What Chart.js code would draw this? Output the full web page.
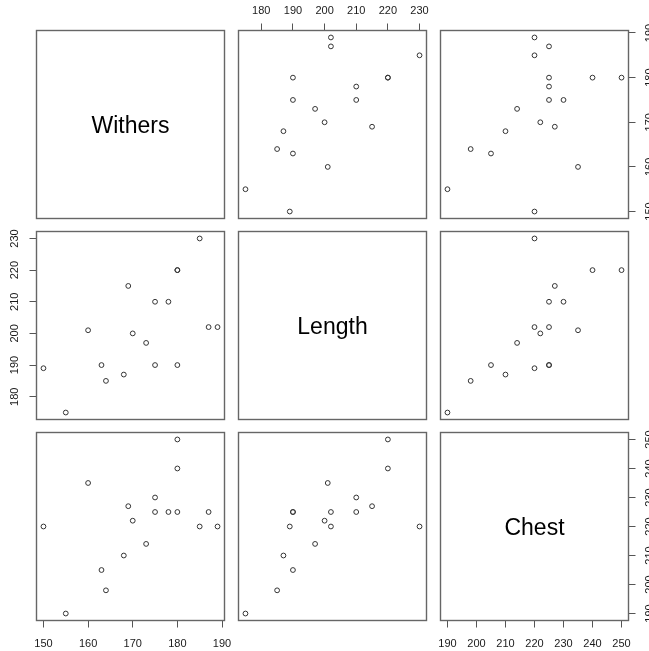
<!DOCTYPE html>
<html>
<head>
<meta charset="utf-8">
<script src="https://cdn.jsdelivr.net/npm/chart.js@4.4.1/dist/chart.umd.min.js"></script>
<style>
  html, body { margin: 0; padding: 0; background: #fff; overflow: hidden; }
  #wrap { position: relative; width: 649px; height: 651px; overflow: hidden; }
  #wrap canvas { position: absolute; left: 0; top: 0; }
</style>
</head>
<body>
<div id="wrap"></div>
<script>
// Horse body measurements (cm), one entry per animal
const variables = ['Withers', 'Length', 'Chest'];
const withers = [150, 155, 160, 163, 164, 168, 169, 170, 173, 175, 175, 178, 180, 180, 180, 185, 187, 189];
const length  = [189, 175, 201, 190, 185, 187, 215, 200, 197, 210, 190, 210, 220, 220, 190, 230, 202, 202];
const chest   = [220, 190, 235, 205, 198, 210, 227, 222, 214, 230, 225, 225, 250, 240, 225, 220, 225, 220];

const withersTicks = [150, 160, 170, 180, 190];
const lengthTicks  = [180, 190, 200, 210, 220, 230];
const chestTicks   = [190, 200, 210, 220, 230, 240, 250];

const columns = [withers, length, chest];
const tickSets = [withersTicks, lengthTicks, chestTicks];

// page layout; canvases are a bit larger than the page so the
// right-hand labels run off the edge
const W = 649, H = 651;
const CW = W + 40, CH = H + 40;
const colLeft = [36.5, 238.5, 440.5];
const rowTop = [30.5, 231.5, 432.5];
const cell = 188;
const axisSize = 30;
const FONT = '"Liberation Sans", Arial, sans-serif';

// data extent padded by 4% on each side, like base graphics
function extent(values) {
  const lo = Math.min(...values), hi = Math.max(...values);
  const pad = (hi - lo) * 0.04;
  return [lo - pad, hi + pad];
}

// box around every panel, plus the variable name on the diagonal
const frame = {
  id: 'frame',
  afterDraw(chart, args, opts) {
    const { ctx, chartArea: a } = chart;
    ctx.save();
    ctx.strokeStyle = '#666';
    ctx.lineWidth = 1.4;
    ctx.strokeRect(a.left, a.top, a.right - a.left, a.bottom - a.top);
    if (opts.label) {
      ctx.fillStyle = '#000';
      ctx.font = '23px ' + FONT;
      ctx.textAlign = 'center';
      ctx.textBaseline = 'middle';
      ctx.fillText(opts.label, (a.left + a.right) / 2, (a.top + a.bottom) / 2 + 2);
    }
    ctx.restore();
  }
};

const labelPadding = { left: 5, right: 5, top: 6, bottom: 10 };

function axis(ticks, range, position, show) {
  const vertical = position === 'left' || position === 'right';
  return {
    type: 'linear',
    position: position,
    min: range[0],
    max: range[1],
    display: show,
    border: { display: false },
    grid: { drawOnChartArea: false, drawTicks: true, tickLength: 7, tickColor: '#555', tickWidth: 1 },
    ticks: {
      color: '#1a1a1a',
      font: { family: FONT, size: 11 },
      padding: labelPadding[position],
      minRotation: vertical ? 90 : 0,
      maxRotation: vertical ? 90 : 0,
      crossAlign: vertical ? 'center' : 'near',
      autoSkip: false
    },
    afterBuildTicks(scale) {
      scale.ticks = ticks.map(v => ({ value: v }));
    },
    afterFit(scale) {
      const size = show ? axisSize : 0;
      if (vertical) scale.width = size; else scale.height = size;
      scale.paddingLeft = scale.paddingRight = scale.paddingTop = scale.paddingBottom = 0;
    }
  };
}

const wrap = document.getElementById('wrap');

for (let i = 0; i < 3; i++) {
  for (let j = 0; j < 3; j++) {
    const canvas = document.createElement('canvas');
    canvas.width = CW;
    canvas.height = CH;
    wrap.appendChild(canvas);

    // outer axes alternate between sides, as in a pairs plot
    const showTop = i === 0 && j % 2 === 1;
    const showBottom = i === 2 && j % 2 === 0;
    const showLeft = j === 0 && i % 2 === 1;
    const showRight = j === 2 && i % 2 === 0;

    const left = colLeft[j], right = colLeft[j] + cell;
    const top = rowTop[i], bottom = rowTop[i] + cell;
    const padding = {
      left: left - (showLeft ? axisSize : 0),
      right: CW - right - (showRight ? axisSize : 0),
      top: top - (showTop ? axisSize : 0),
      bottom: CH - bottom - (showBottom ? axisSize : 0)
    };

    const points = i === j ? [] : columns[j].map((x, k) => ({ x: x, y: columns[i][k] }));

    new Chart(canvas, {
      type: 'scatter',
      data: {
        datasets: [{
          data: points,
          pointStyle: 'circle',
          pointRadius: 2.4,
          pointHoverRadius: 2.4,
          pointBorderWidth: 1,
          pointBorderColor: '#333',
          pointBackgroundColor: 'rgba(0,0,0,0)'
        }]
      },
      options: {
        responsive: false,
        animation: false,
        events: [],
        layout: { padding: padding },
        plugins: {
          legend: { display: false },
          tooltip: { enabled: false },
          frame: { label: i === j ? variables[i] : null }
        },
        scales: {
          x: axis(tickSets[j], extent(columns[j]), showTop ? 'top' : 'bottom', showTop || showBottom),
          y: axis(tickSets[i], extent(columns[i]), showRight ? 'right' : 'left', showLeft || showRight)
        }
      },
      plugins: [frame]
    });
  }
}
</script>
</body>
</html>
